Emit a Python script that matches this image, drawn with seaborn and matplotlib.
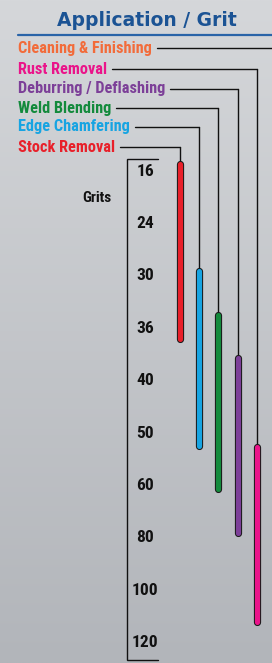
import numpy as np
import pandas as pd
import matplotlib
matplotlib.use("Agg")
import matplotlib.pyplot as plt
import matplotlib.patheffects as pe
import seaborn as sns

# ---------------- data ----------------
applications = ["Stock Removal", "Edge Chamfering", "Weld Blending",
                "Deburring / Deflashing", "Rust Removal", "Cleaning & Finishing"]
app_colors = ["#e8202a", "#17a4e2", "#138a3c", "#7c3f98", "#ea148a", "#f26b3a"]
grits = ["16", "24", "30", "36", "40", "50", "60", "80", "100", "120"]
# bar extents on the grit scale (0 = "16", 1 = "24", ... 9 = "120")
range_start = [-0.14, 1.90, 2.74, 3.56, 5.26, 7.00]
range_end = [3.21, 5.25, 6.07, 6.91, 8.61, 10.40]

# ---------------- layout ----------------
W, H = 272, 663
X0, XS = 179.5, 19.4     # pixel x of first bar, pixel spacing between bars
Y0, YS = 171.0, 52.4     # pixel y of grit "16", pixel spacing per grit step

def px(x):
    return (x - X0) / XS

def py(y):
    return (y - Y0) / YS

sns.set_theme(style="white")
NARROW = ['Roboto Condensed', 'Liberation Sans Narrow', 'Roboto', 'DejaVu Sans']
plt.rcParams['font.family'] = NARROW

fig = plt.figure(figsize=(W / 100, H / 100), dpi=100)

# background gradient
bg = fig.add_axes([0, 0, 1, 1])
top = np.array(matplotlib.colors.to_rgb("#d5d7da"))
bot = np.array(matplotlib.colors.to_rgb("#b2b5ba"))
t = np.linspace(0, 1, 256)[:, None, None]
grad = top * (1 - t) + bot * t
grad = np.repeat(grad, 2, axis=1)
bg.imshow(grad, aspect="auto", extent=[0, 1, 0, 1], origin="upper")
bg.set_axis_off()

ax = fig.add_axes([0, 0, 1, 1])
ax.patch.set_alpha(0)

# bars via seaborn
rows = []
for k, (a, s, e) in enumerate(zip(applications, range_start, range_end)):
    rows.append({"app": a, "x": k, "y": s})
    rows.append({"app": a, "x": k, "y": e})
df = pd.DataFrame(rows)
sns.lineplot(data=df, x="x", y="y", hue="app", units="app", estimator=None,
             sort=False, palette=dict(zip(applications, app_colors)),
             linewidth=3.7, legend=False, ax=ax, solid_capstyle="round",
             zorder=5)
for ln in ax.lines:
    ln.set_path_effects([pe.Stroke(linewidth=5.2, foreground="#1a1a1a"), pe.Normal()])
    ln.set_solid_capstyle("round")
ax.set_xlim(px(0), px(W))
ax.set_ylim(py(H), py(0))
ax.set_axis_off()

# title
fig.text(147 / W, 1 - 20.5 / H, "Application / Grit", ha="center", va="center",
         fontsize=13.5, fontweight="bold", color="#1b5394", family="DejaVu Sans")
ax.plot([px(18), px(W)], [py(34.5), py(34.5)], color="#2a64a8", lw=1.6, clip_on=False)

# application labels with connectors
label_y = {"Cleaning & Finishing": 48, "Rust Removal": 69, "Deburring / Deflashing": 89,
           "Weld Blending": 108, "Edge Chamfering": 127, "Stock Removal": 147}
fig.canvas.draw()
renderer = fig.canvas.get_renderer()
inv = ax.transData.inverted()
for k, (a, c) in enumerate(zip(applications, app_colors)):
    ly = label_y[a]
    txt = ax.text(px(18), py(ly), a, ha="left", va="center", fontsize=11.7,
                  fontweight="bold", color=c)
    bb = txt.get_window_extent(renderer=renderer)
    x_end = inv.transform((bb.x1, 0))[0] + 5 / XS
    ax.plot([x_end, k], [py(ly), py(ly)], color="#111111", lw=1.0, zorder=3)
    ax.plot([k, k], [py(ly), range_start[k]], color="#111111", lw=1.0, zorder=3)

# grit scale bracket
ax.plot([px(158), px(126.5), px(126.5), px(158)],
        [py(159), py(159), py(660), py(660)], color="#111111", lw=1.0,
        solid_joinstyle="miter")
for i, g in enumerate(grits):
    ax.text(px(145), i, g, ha="center", va="center", fontsize=12.5,
            fontweight="bold", color="#111111")
ax.text(px(97), py(198), "Grits", ha="center", va="center", fontsize=11,
        fontweight="bold", color="#111111")

fig.savefig("out.png", dpi=100)
